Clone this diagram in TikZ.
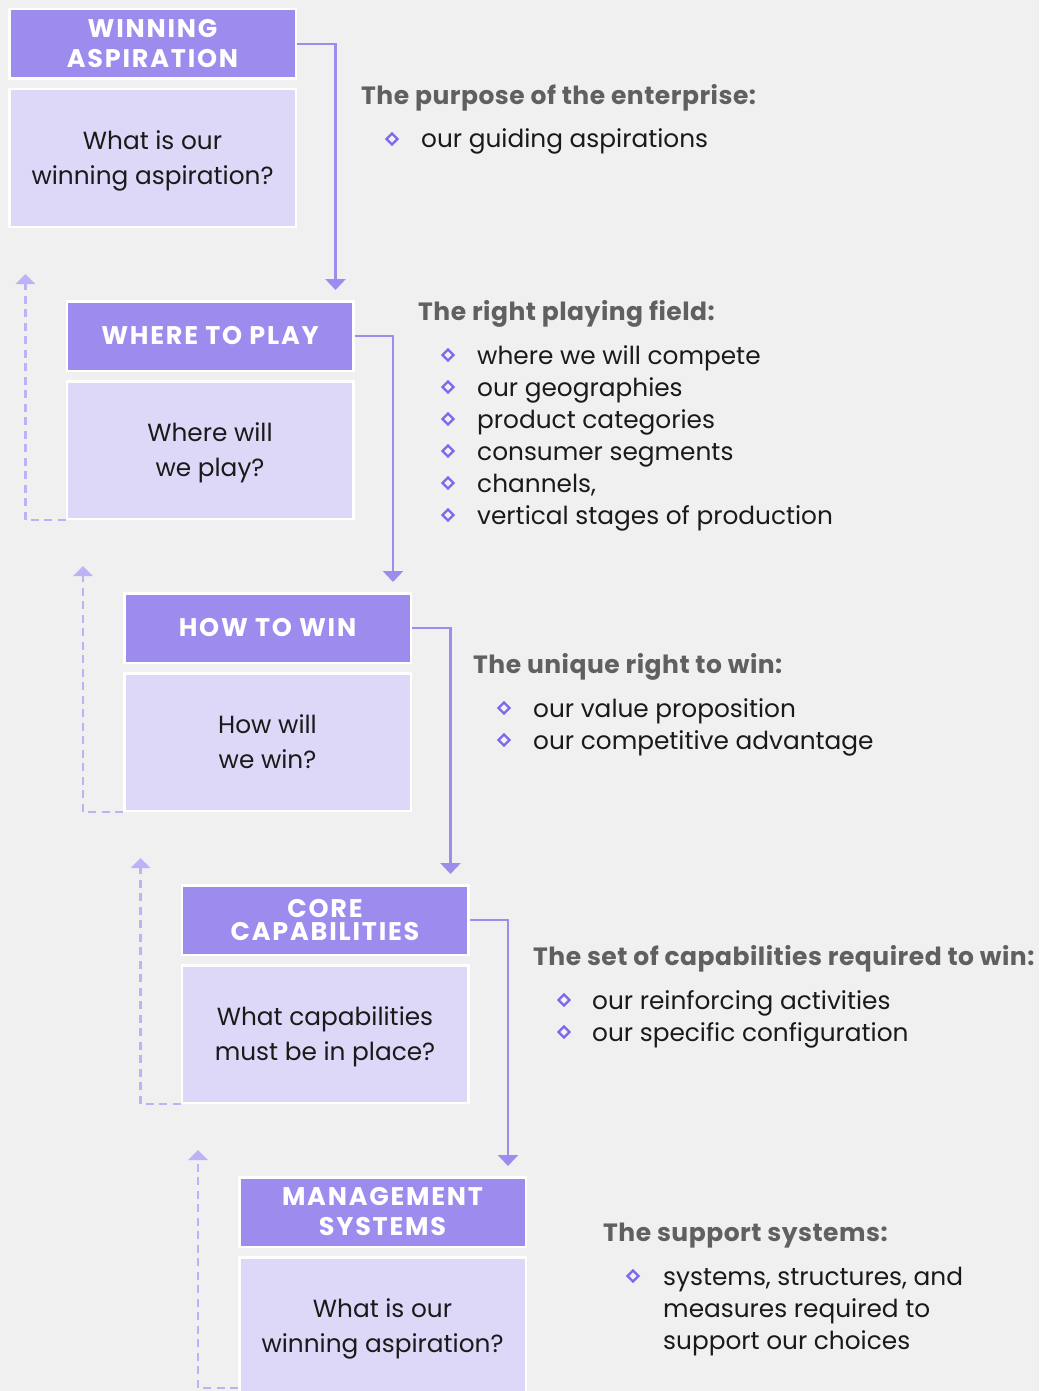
\documentclass[tikz,border=0pt]{standalone}
\usepackage{fontspec}
\setmainfont{Poppins}
\newfontfamily\capfont[LetterSpace=7]{Poppins}
\newfontfamily\leadfont[LetterSpace=2]{Poppins}
\usetikzlibrary{arrows.meta,shapes.geometric}

\definecolor{bgcol}{HTML}{F0F0F0}
\definecolor{headcol}{HTML}{9D8CEE}
\definecolor{bodycol}{HTML}{DDD8F8}
\definecolor{backcol}{HTML}{BDB2F8}
\definecolor{titlecol}{HTML}{606060}
\definecolor{markcol}{HTML}{7C68EE}
\definecolor{txtcol}{HTML}{1A1A1A}

\tikzset{
  head/.style={fill=headcol, draw=white, line width=2.5pt, minimum width=286.5pt,
    minimum height=69.5pt, inner sep=0pt, text=white, align=center,
    font=\capfont\bfseries\fontsize{25.5}{30}\selectfont},
  body/.style={fill=bodycol, draw=white, line width=2.5pt, minimum width=286.5pt,
    minimum height=137.5pt, inner sep=0pt, text=txtcol, align=center, text depth=0pt,
    font=\fontsize{24.8}{35}\selectfont},
  conn/.style={headcol, line width=2.8pt, -{Triangle[width=20pt,length=11pt]}},
  back/.style={backcol, line width=2.8pt, dash pattern=on 8pt off 5.5pt,
    -{Triangle[width=19pt,length=10pt]}},
  title/.style={anchor=base west, inner sep=0pt, text=titlecol,
    font=\leadfont\bfseries\fontsize{25}{30}\selectfont},
  dot/.style={diamond, draw=markcol, line width=2.4pt, minimum size=12pt, inner sep=0pt},
  item/.style={anchor=base west, inner sep=0pt, text=txtcol, align=left,
    font=\fontsize{24.8}{32}\selectfont},
}

\begin{document}
\begin{tikzpicture}[x=1pt, y=-1pt]
  % Canvas
  \useasboundingbox (0,0) rectangle (1039,1391);
  \fill[bgcol] (0,0) rectangle (1039,1391);

  % Steps
  \node[head] (h1) at (152.5,44) {WINNING\\ASPIRATION};
  \node[body] (b1) at (152.5,158) {What is our\\winning aspiration?};
  \node[head] (h2) at (210,336) {WHERE TO PLAY};
  \node[body] (b2) at (210,450) {Where will\\we play?};
  \node[head] (h3) at (267.5,628) {HOW TO WIN};
  \node[body] (b3) at (267.5,742) {How will\\we win?};
  \node[head] (h4) at (325,920) {CORE\\[-6pt]CAPABILITIES};
  \node[body] (b4) at (325,1034) {What capabilities\\must be in place?};
  \node[head] (h5) at (382.5,1212) {MANAGEMENT\\SYSTEMS};
  \node[body] (b5) at (382.5,1326) {What is our\\winning aspiration?};

  % Forward arrows
  \draw[conn] (h1.east) -| ([xshift=-19pt,yshift=10pt]h2.north east);
  \draw[conn] (h2.east) -| ([xshift=-19pt,yshift=10pt]h3.north east);
  \draw[conn] (h3.east) -| ([xshift=-19pt,yshift=10pt]h4.north east);
  \draw[conn] (h4.east) -| ([xshift=-19pt,yshift=10pt]h5.north east);

  % Feedback arrows
  \draw[back] (b2.south west) -| ([xshift=-40pt,yshift=26pt]h2.north west);
  \draw[back] (b3.south west) -| ([xshift=-40pt,yshift=26pt]h3.north west);
  \draw[back] (b4.south west) -| ([xshift=-40pt,yshift=26pt]h4.north west);
  \draw[back] ([yshift=8pt]b5.south west) -| ([xshift=-40pt,yshift=26pt]h5.north west);

  % Descriptions
  \node[title] (t1) at (361,105) {The purpose of the enterprise:};
  \node[dot] (d1a) at (392,139) {};
  \node[item] (i1a) at (421,148) {our guiding aspirations};

  \node[title] (t2) at (418,320) {The right playing field:};
  \node[dot] (d2a) at (448,355) {};
  \node[item] (i2a) at (477,364) {where we will compete};
  \node[dot] (d2b) at (448,387) {};
  \node[item] (i2b) at (477,396) {our geographies};
  \node[dot] (d2c) at (448,419) {};
  \node[item] (i2c) at (477,428) {product categories};
  \node[dot] (d2d) at (448,451) {};
  \node[item] (i2d) at (477,460) {consumer segments};
  \node[dot] (d2e) at (448,483) {};
  \node[item] (i2e) at (477,492) {channels,};
  \node[dot] (d2f) at (448,515) {};
  \node[item] (i2f) at (477,524) {vertical stages of production};

  \node[title] (t3) at (473,673) {The unique right to win:};
  \node[dot] (d3a) at (504,708) {};
  \node[item] (i3a) at (533,717) {our value proposition};
  \node[dot] (d3b) at (504,740) {};
  \node[item] (i3b) at (533,749) {our competitive advantage};

  \node[title] (t4) at (533,965) {The set of capabilities required to win:};
  \node[dot] (d4a) at (564,1000) {};
  \node[item] (i4a) at (592,1009) {our reinforcing activities};
  \node[dot] (d4b) at (564,1032) {};
  \node[item] (i4b) at (592,1041) {our specific configuration};

  % base of a multi-line node sits on its last line
  \node[title] (t5) at (603,1241) {The support systems:};
  \node[dot] (d5a) at (633,1276) {};
  \node[item] (i5a) at (663,1349) {systems, structures, and\\measures required to\\support our choices};
\end{tikzpicture}
\end{document}
